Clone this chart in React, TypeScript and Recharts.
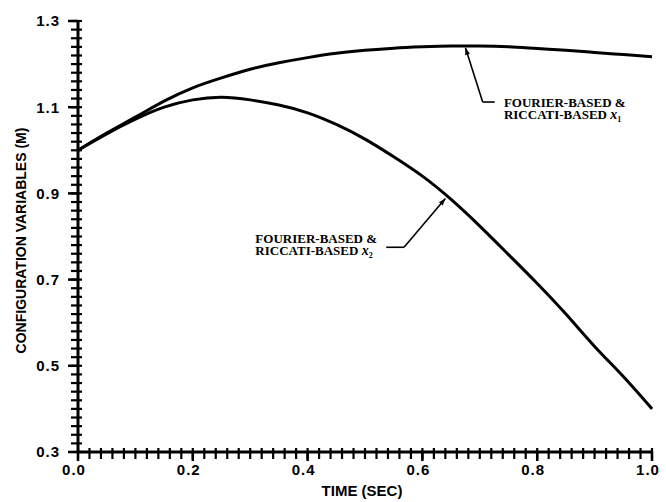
import { LineChart, Line, XAxis, YAxis, ReferenceLine, ReferenceDot } from 'recharts'

// time (sec) and the two configuration variables (m)
const time = [0, 0.05, 0.1, 0.15, 0.2, 0.25, 0.3, 0.35, 0.4, 0.45, 0.5, 0.55, 0.6, 0.65, 0.7, 0.75, 0.8, 0.85, 0.9, 0.95, 1.0]
const x1 = [1.0, 1.04, 1.077, 1.114, 1.145, 1.168, 1.188, 1.203, 1.215, 1.225, 1.232, 1.237, 1.24, 1.242, 1.242, 1.24, 1.236, 1.232, 1.227, 1.222, 1.217]
const x2 = [1.0, 1.038, 1.072, 1.1, 1.117, 1.123, 1.117, 1.105, 1.087, 1.06, 1.026, 0.985, 0.94, 0.886, 0.824, 0.758, 0.691, 0.62, 0.545, 0.475, 0.4]

const xMajor = [0, 0.2, 0.4, 0.6, 0.8, 1.0]
const yMajor = [0.3, 0.5, 0.7, 0.9, 1.1, 1.3]
const minorStep = 0.02

const data = time.map((t, i) => ({ t, x1: x1[i], x2: x2[i] }))

const ticksBetween = (lo: number, hi: number) => {
  const n = Math.round((hi - lo) / minorStep)
  return Array.from({ length: n + 1 }, (_, i) => +(lo + i * minorStep).toFixed(2))
}
const xMinor = ticksBetween(0, 1)
const yMinor = ticksBetween(0.3, 1.3)

const sans = '"Liberation Sans", Arial, sans-serif'
const serif = '"Liberation Serif", "Times New Roman", serif'

function YTick({ x, y, payload }: any) {
  return (
    <text x={x - 8} y={y} dy="0.36em" textAnchor="end" fontFamily={sans} fontWeight="bold"
      fontSize={15} letterSpacing={1} fill="#000">
      {payload.value.toFixed(1)}
    </text>
  )
}

function XTick({ x, y, payload }: any) {
  return (
    <text x={x - 4} y={y + 14} textAnchor="middle" fontFamily={sans} fontWeight="bold"
      fontSize={15} letterSpacing={1} fill="#000">
      {payload.value.toFixed(1)}
    </text>
  )
}

// minor tick marks: a short comb on both sides of the axis line
function YMark({ cx, cy }: any) {
  return <path d={`M${cx - 7},${cy}H${cx + 4}`} stroke="#000" strokeWidth={2.2} fill="none" />
}
function XMark({ cx, cy }: any) {
  return <path d={`M${cx},${cy - 4}V${cy + 7}`} stroke="#000" strokeWidth={2.2} fill="none" />
}

function YTitle({ viewBox }: any) {
  const cx = 21
  const cy = viewBox.y + viewBox.height / 2 + 4
  return (
    <text x={cx} y={cy} transform={`rotate(-90 ${cx} ${cy})`} textAnchor="middle" dy="0.36em"
      fontFamily={sans} fontWeight="bold" fontSize={14} fill="#000">
      CONFIGURATION VARIABLES (M)
    </text>
  )
}

function XTitle({ viewBox }: any) {
  const cx = viewBox.x + viewBox.width / 2 - 3
  return (
    <text x={cx} y={viewBox.y + 44} textAnchor="middle" fontFamily={sans} fontWeight="bold"
      fontSize={15} fill="#000">
      TIME  (SEC)
    </text>
  )
}

function Note({ cx, cy, sub }: any) {
  return (
    <g fontFamily={serif} fontWeight="bold" fill="#000">
      <text x={cx} y={cy} fontSize={13}>FOURIER-BASED &amp;</text>
      <text x={cx} y={cy + 12} fontSize={13}>
        RICCATI-BASED{'  '}
        <tspan fontStyle="italic" fontSize={14}>x</tspan>
        <tspan fontSize={8} dy={3}>{sub}</tspan>
      </text>
    </g>
  )
}

// leader line; a small arrowhead sits at its first point when asked
function Leader(props: any) {
  const { x1, y1, x2, y2, arrow } = props
  if (![x1, y1, x2, y2].every((v) => typeof v === 'number')) return null
  const dx = x1 - x2
  const dy = y1 - y2
  const len = Math.hypot(dx, dy) || 1
  const ux = dx / len
  const uy = dy / len
  const head = 7
  const w = 2.5
  const bx = x1 - ux * head
  const by = y1 - uy * head
  return (
    <g>
      <line x1={x1} y1={y1} x2={x2} y2={y2} stroke="#000" strokeWidth={1.6} />
      {arrow && (
        <path d={`M${x1},${y1}L${bx - uy * w},${by + ux * w}L${bx + uy * w},${by - ux * w}Z`} fill="#000" />
      )}
    </g>
  )
}

export default function App() {
  return (
    <div style={{ position: 'absolute', left: 0, top: 0, background: '#fff' }}>
      <LineChart width={666} height={502} data={data} margin={{ top: 21, right: 14, bottom: 20, left: 0 }}>
        <XAxis
          dataKey="t"
          type="number"
          domain={[0, 1]}
          ticks={xMajor}
          interval={0}
          tickSize={9}
          tickMargin={0}
          height={30}
          axisLine={{ stroke: '#000', strokeWidth: 3 }}
          tickLine={{ stroke: '#000', strokeWidth: 2.5 }}
          tick={<XTick />}
          label={{ content: <XTitle /> }}
        />
        <YAxis
          type="number"
          domain={[0.3, 1.3]}
          ticks={yMajor}
          interval={0}
          tickSize={10}
          tickMargin={0}
          width={78}
          axisLine={{ stroke: '#000', strokeWidth: 3 }}
          tickLine={{ stroke: '#000', strokeWidth: 2.5 }}
          tick={<YTick />}
          label={{ content: <YTitle /> }}
        />

        {yMinor.map((v) => (
          <ReferenceDot key={`y${v}`} x={0} y={v} r={0} ifOverflow="visible" shape={(p: any) => <YMark {...p} />} />
        ))}
        {xMinor.map((v) => (
          <ReferenceDot key={`x${v}`} x={v} y={0.3} r={0} ifOverflow="visible" shape={(p: any) => <XMark {...p} />} />
        ))}

        <Line dataKey="x1" type="natural" stroke="#000" strokeWidth={3} dot={false} isAnimationActive={false} />
        <Line dataKey="x2" type="natural" stroke="#000" strokeWidth={3} dot={false} isAnimationActive={false} />

        <ReferenceLine segment={[{ x: 0.675, y: 1.238 }, { x: 0.705, y: 1.112 }]}
          shape={(p: any) => <Leader {...p} arrow />} />
        <ReferenceLine segment={[{ x: 0.705, y: 1.112 }, { x: 0.726, y: 1.112 }]}
          shape={(p: any) => <Leader {...p} />} />
        <ReferenceDot x={0.742} y={1.1} r={0} shape={(p: any) => <Note cx={p.cx} cy={p.cy} sub="1" />} />

        <ReferenceLine segment={[{ x: 0.64, y: 0.888 }, { x: 0.568, y: 0.775 }]}
          shape={(p: any) => <Leader {...p} arrow />} />
        <ReferenceLine segment={[{ x: 0.568, y: 0.775 }, { x: 0.537, y: 0.775 }]}
          shape={(p: any) => <Leader {...p} />} />
        <ReferenceDot x={0.309} y={0.784} r={0} shape={(p: any) => <Note cx={p.cx} cy={p.cy} sub="2" />} />
      </LineChart>
    </div>
  )
}
